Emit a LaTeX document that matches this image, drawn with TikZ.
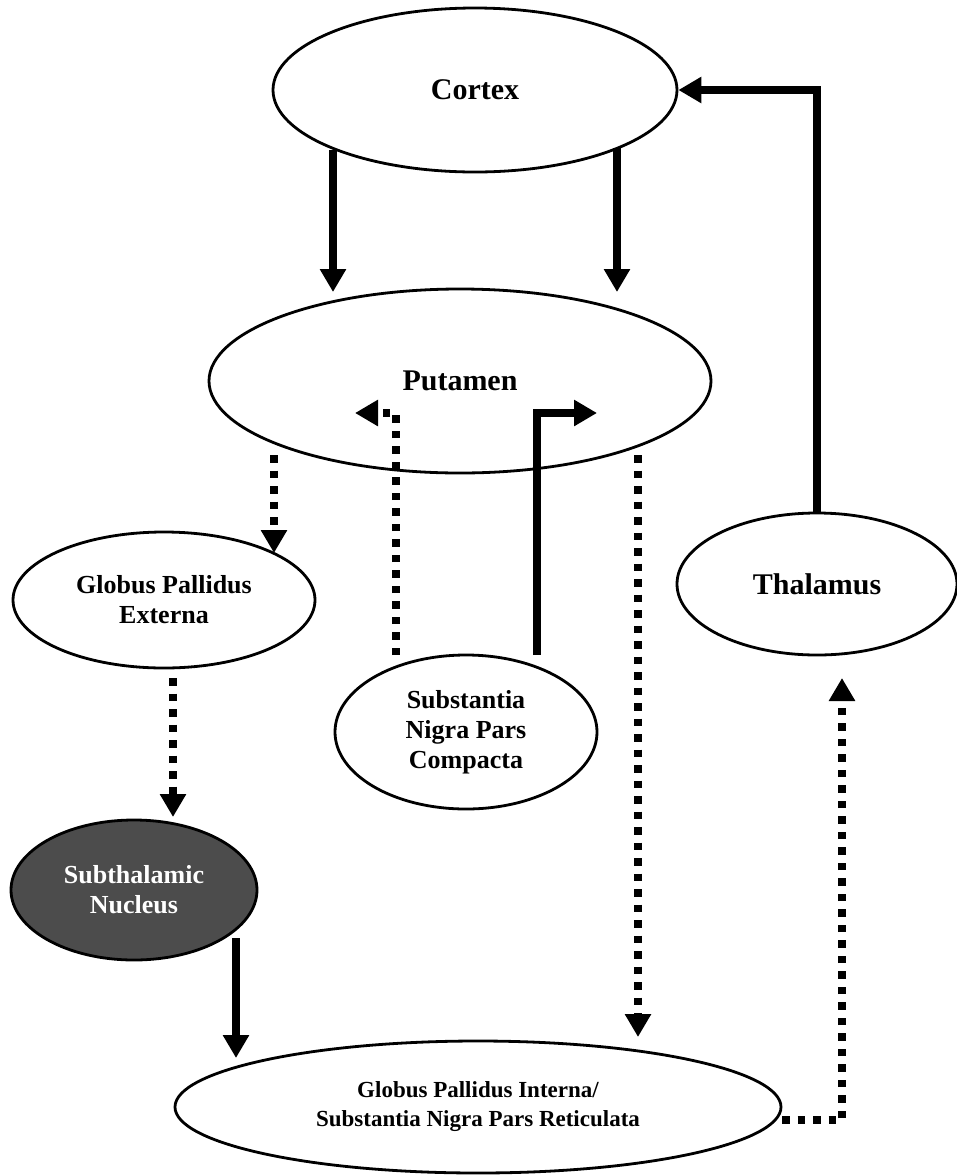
\documentclass[tikz,border=0pt]{standalone}
\usepackage{fontspec}
\setmainfont{Liberation Serif}
\usetikzlibrary{shapes.geometric,arrows.meta}
\begin{document}
\begin{tikzpicture}[x=1pt,y=-1pt,
  box/.style={ellipse,draw,line width=2.8pt,inner sep=0pt,align=center,
    font=\bfseries\fontsize{26}{30}\selectfont},
  bigtext/.style={font=\bfseries\fontsize{30}{34}\selectfont},
  smalltext/.style={font=\bfseries\fontsize{23}{29}\selectfont},
  solidarrow/.style={line width=7.5pt,-{Triangle[length=23pt,width=25pt]}},
  dotarrow/.style={line width=7.5pt,dash pattern=on 7.5pt off 8pt,-{Triangle[length=23pt,width=25pt]}},
]
\useasboundingbox (0,0) rectangle (957,1176);

\node[box,bigtext,minimum width=404pt,minimum height=164pt] (cortex) at (475,90) {Cortex};
\node[box,bigtext,minimum width=502pt,minimum height=184pt] (put) at (460,381) {Putamen};
\node[box,minimum width=302pt,minimum height=136pt] (gpe) at (164,600) {Globus Pallidus\\Externa};
\node[box,bigtext,minimum width=280pt,minimum height=142pt] (thal) at (817,584) {Thalamus};
\node[box,minimum width=262pt,minimum height=154pt] (snc) at (466,732) {Substantia\\Nigra Pars\\Compacta};
\node[box,minimum width=246pt,minimum height=140pt,fill=black!70,text=white] (stn) at (134,890) {Subthalamic\\Nucleus};
\node[box,smalltext,minimum width=606pt,minimum height=132pt] (gpi) at (478,1107) {Globus Pallidus Interna/\\Substantia Nigra Pars Reticulata};

% connector end points
\coordinate (c1s) at (333,150);
\coordinate (c1e) at (333,292);
\coordinate (c2s) at (617,148);
\coordinate (c2e) at (617,292);
\coordinate (pgs) at (274,455);
\coordinate (pge) at (274,553);
\coordinate (gss) at (173,678);
\coordinate (gse) at (173,817);
\coordinate (sgs) at (236,938);
\coordinate (sge) at (236,1058);
\coordinate (pis) at (638,455);
\coordinate (pie) at (638,1037);
\coordinate (snd) at (396,655);
\coordinate (sndt) at (355,413);
\coordinate (sns) at (537,655);
\coordinate (snst) at (597,413);
\coordinate (gts) at (782,1120);
\coordinate (gte) at (842,678);

\draw[solidarrow] (c1s) -- (c1e);
\draw[solidarrow] (c2s) -- (c2e);
\draw[solidarrow] (thal.north) |- (cortex.east);
\draw[dotarrow] (pgs) -- (pge);
\draw[dotarrow] (gss) -- (gse);
\draw[solidarrow] (sgs) -- (sge);
\draw[dotarrow] (pis) -- (pie);
\draw[dotarrow] (snd) |- (sndt);
\draw[solidarrow] (sns) |- (snst);
\draw[dotarrow] (gts) -| (gte);
\end{tikzpicture}
\end{document}
